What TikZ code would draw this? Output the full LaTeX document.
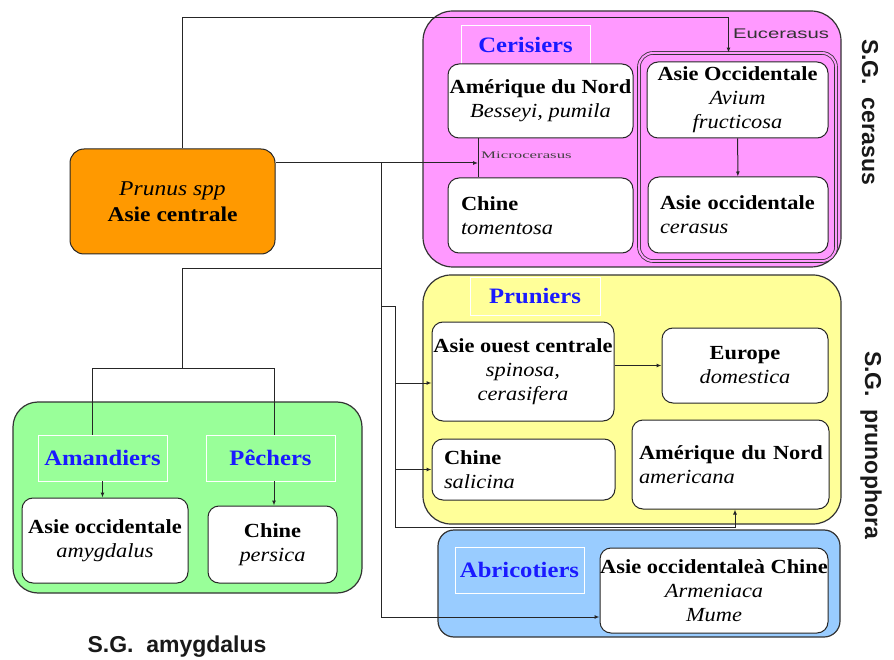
\documentclass[tikz,border=0pt]{standalone}
\usepackage{fontspec}
\setmainfont[FakeStretch=1.12]{Liberation Serif}
\newfontfamily\sgfont{Liberation Sans}
\usetikzlibrary{arrows.meta}

\definecolor{prunusorange}{HTML}{FF9900}
\definecolor{cerisepink}{HTML}{FF99FF}
\definecolor{prunyellow}{HTML}{FFFF99}
\definecolor{amandgreen}{HTML}{99FF99}
\definecolor{abricblue}{HTML}{99CCFF}
\definecolor{tagblue}{HTML}{1A1AFF}

\newcommand\boxsize{\fontsize{20}{24}\selectfont}
\newcommand\tagsize{\fontsize{22}{22}\selectfont}

\tikzset{
  grp/.style={draw=black!80, line width=1.2pt, rounded corners=#1},
  grp/.default=24pt,
  cell/.style={draw=black!85, line width=1pt, fill=white, rounded corners=11pt,
    align=center, inner sep=0pt, font=\boxsize},
  tagbox/.style={draw=white, line width=0.9pt, inner sep=0pt, text=tagblue,
    font=\tagsize\bfseries},
  link/.style={draw=black!85, line width=1pt},
  arr/.style={link, -{Latex[length=5pt,width=4pt]}},
  sglabel/.style={font=\sgfont\bfseries\fontsize{23}{23}\selectfont, text=black!90},
}

\begin{document}
\begin{tikzpicture}[x=1pt, y=-1pt]
\useasboundingbox (0,0) rectangle (894,660);

\node[grp=30pt, fill=cerisepink, minimum width=418pt, minimum height=256pt] (cerasus) at (632,139) {};
\node[tagbox, fill=cerisepink, minimum width=129pt, minimum height=39pt] (cerisiers) at (525.5,44.5) {Cerisiers};
\node[cell, minimum width=185pt, minimum height=74pt] (amnord1) at (540.5,101) {\textbf{Amérique du Nord}\\\textit{Besseyi, pumila}};
\node[cell, align=left, text width=159pt, inner xsep=13pt, minimum height=75pt] (chine1) at (540.5,215.5) {\textbf{Chine}\\\textit{tomentosa}};
\node[grp=14pt, fill=cerisepink, line width=0.8pt, double=cerisepink, double distance=2pt, minimum width=197pt, minimum height=208pt] (eucer) at (737.5,157) {};
\node[cell, minimum width=181pt, minimum height=76pt] (asocc1) at (737.5,100) {\textbf{Asie Occidentale}\\\textit{Avium}\\\textit{fructicosa}};
\node[cell, align=left, text width=156pt, inner xsep=12pt, minimum height=76pt] (asocc2) at (738,215) {\mbox{\textbf{Asie occidentale}}\\\textit{cerasus}};
\node[font=\sgfont\fontsize{14}{14}\selectfont, text=black!80] (eucerlbl) at (781,34) {\scalebox{1.45}[1]{Eucerasus}};
\node[anchor=west, inner sep=0pt, text=black!75] (microlbl) at (481,155) {\fontsize{10}{10}\selectfont\scalebox{1.5}[1]{Microcerasus}};
\node[sglabel, rotate=-90] (sgcer) at (870,112) {S.G.\ \ cerasus};

\node[grp=28pt, fill=prunyellow, minimum width=418pt, minimum height=249pt] (prunophora) at (632,399.5) {};
\node[tagbox, fill=prunyellow, minimum width=130pt, minimum height=38pt] (pruniers) at (535,296) {Pruniers};
\node[cell, minimum width=182pt, minimum height=99pt] (asouest) at (523,371.5) {\textbf{Asie ouest centrale}\\\textit{spinosa,}\\\textit{cerasifera}};
\node[cell, minimum width=166pt, minimum height=75pt] (europe) at (745,365.5) {\textbf{Europe}\\\textit{domestica}};
\node[cell, align=left, text width=159pt, inner xsep=12pt, minimum height=61pt] (chine2) at (523.5,469.5) {\textbf{Chine}\\\textit{salicina}};
\node[cell, align=left, text width=183pt, inner xsep=7pt, minimum height=89pt] (amnord2) at (730.5,464.5) {\mbox{\textbf{Amérique du Nord}}\\\textit{americana}\\[4pt]};
\node[sglabel, rotate=-90] (sgpru) at (871,445) {S.G.\ \ prunophora};

\node[grp=16pt, fill=abricblue, minimum width=402pt, minimum height=107pt] (armeniaca) at (639,583.5) {};
\node[tagbox, fill=abricblue, minimum width=129pt, minimum height=46pt] (abricot) at (519.5,570) {Abricotiers};
\node[cell, minimum width=228pt, minimum height=85pt] (asochine) at (714,590.5) {\textbf{Asie occidentaleà Chine}\\\textit{Armeniaca}\\\textit{Mume}};

\node[grp=25pt, fill=amandgreen, minimum width=349pt, minimum height=191pt] (amygdalus) at (187.5,497.5) {};
\node[tagbox, fill=amandgreen, minimum width=129pt, minimum height=46pt] (amand) at (102.5,458) {Amandiers};
\node[tagbox, fill=amandgreen, minimum width=129pt, minimum height=46pt] (pech) at (270.5,458) {Pêchers};
\node[cell, minimum width=166pt, minimum height=85pt] (asocc3) at (105,540.5) {\textbf{Asie occidentale}\\\textit{amygdalus}};
\node[cell, minimum width=129pt, minimum height=77pt] (chine3) at (272.5,544.5) {\textbf{Chine}\\\textit{persica}};
\node[sglabel] (sgamy) at (177,647) {S.G.\ \ amygdalus};

\node[cell, fill=prunusorange, rounded corners=14pt, minimum width=205pt, minimum height=105pt, font=\fontsize{21}{26}\selectfont] (prunus) at (172.5,201.5) {\textit{Prunus spp}\\\textbf{Asie centrale}};

\coordinate (pe) at ([yshift=38.5pt]prunus.east);
\coordinate (mc) at ([xshift=-62.5pt]amnord1.south);
\coordinate (j1) at (381,163);
\coordinate (j2) at (381,269);
\coordinate (j3) at (182,368);
\coordinate (j4) at (381,307);
\coordinate (j5) at (395,527);
\coordinate (aw) at ([yshift=-11.5pt]asouest.west);
\coordinate (ps) at ([xshift=3.5pt]pech.south);

\draw[arr] ([xshift=9.5pt]prunus.north) -- ++(0,-131) -| ([xshift=-9pt]eucer.north);
\draw[link] (mc) -- ([xshift=-62.5pt]chine1.north);
\draw[arr] (pe) -- (pe -| mc);
\draw[arr] (asocc1) -- (asocc2);

\draw[arr] (j1) |- ([yshift=-26.5pt]asochine.west);
\draw[link] (j2) -| (j3);
\draw[link] (j3) -| ([xshift=-10.5pt]amand.north);
\draw[link] (j3) -| ([xshift=3.5pt]pech.north);
\draw[arr] (amand.south) -- (amand.south |- asocc3.north);
\draw[arr] (ps) -- (ps |- chine3.north);

\draw[arr] (j4) -| (j5) -| ([xshift=4.5pt]amnord2.south);
\draw[arr] (aw -| j5) -- (aw);
\draw[arr] (chine2.west -| j5) -- (chine2.west);
\draw[arr] (asouest.east |- europe.west) -- (europe.west);

\end{tikzpicture}
\end{document}
